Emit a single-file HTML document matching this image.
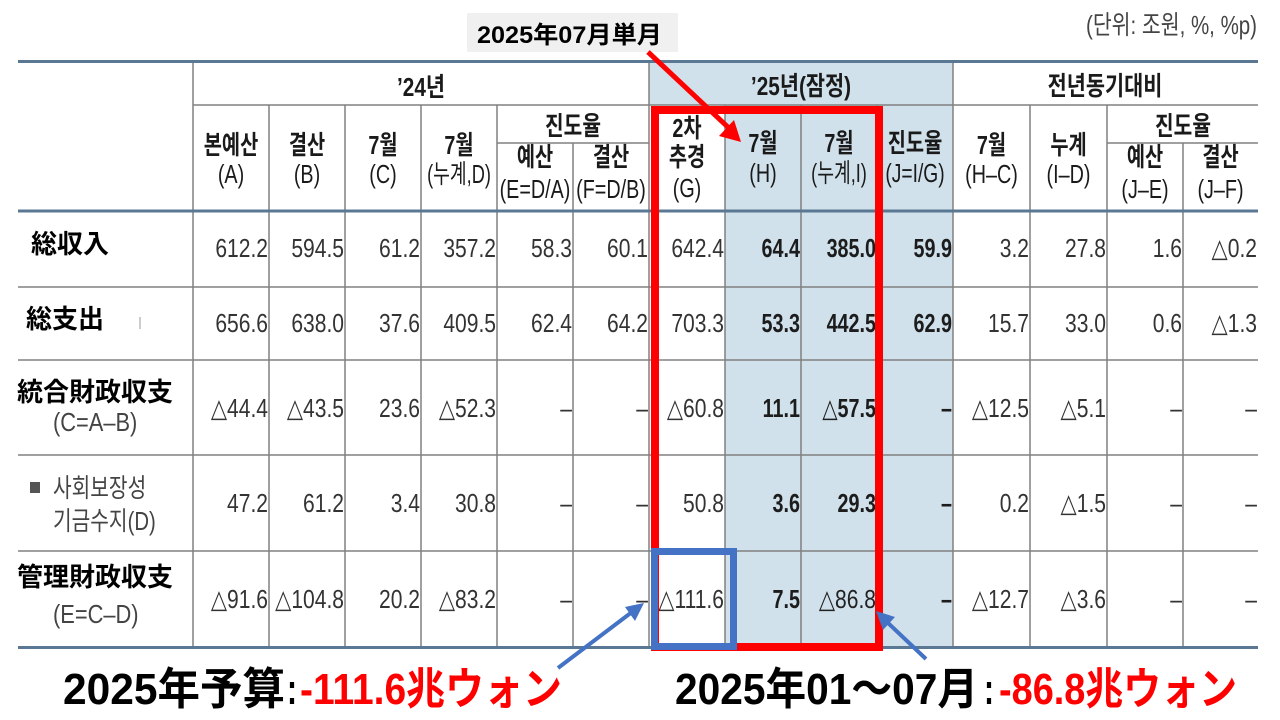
<!DOCTYPE html>
<html>
<head>
<meta charset="utf-8">
<style>
html,body{margin:0;padding:0;background:#fff;}
svg{display:block;}
.n{font-family:"Liberation Sans","DejaVu Sans",sans-serif;font-size:26px;fill:#333;}
.b{font-weight:bold;fill:#1c1c1c;}
.h{font-family:"Liberation Sans","Noto Sans CJK KR",sans-serif;font-size:26px;fill:#1a1a1a;font-weight:bold;}
.hl{font-family:"Liberation Sans","Noto Sans CJK KR",sans-serif;font-size:26px;fill:#1a1a1a;}
.lab{font-family:"Liberation Sans","Noto Sans CJK JP",sans-serif;font-size:26px;font-weight:bold;fill:#000;}
.sub{font-family:"Liberation Sans","Noto Sans CJK KR",sans-serif;font-size:26px;fill:#444;}
.ann{font-family:"Liberation Sans","Noto Sans CJK JP",sans-serif;font-size:44px;font-weight:bold;}
</style>
</head>
<body>
<svg width="1280" height="720" viewBox="0 0 1280 720" xmlns="http://www.w3.org/2000/svg">
<rect x="0" y="0" width="1280" height="720" fill="#fff"/>

<!-- shading -->
<rect x="649" y="62" width="304" height="43" fill="#d0e1eb"/>
<rect x="725" y="105" width="228" height="542" fill="#d0e1eb"/>

<!-- thin lines -->
<g stroke="#808080" stroke-width="1.5" fill="none">
  <line x1="193" y1="105" x2="1258" y2="105"/>
  <line x1="497" y1="143" x2="649" y2="143"/>
  <line x1="1107" y1="143" x2="1258" y2="143"/>
  <line x1="18" y1="287" x2="1258" y2="287"/>
  <line x1="18" y1="360" x2="1258" y2="360"/>
  <line x1="18" y1="455" x2="1258" y2="455"/>
  <line x1="18" y1="551" x2="1258" y2="551"/>
  <line x1="193" y1="62" x2="193" y2="647"/>
  <line x1="649" y1="62" x2="649" y2="647"/>
  <line x1="953" y1="62" x2="953" y2="647"/>
  <line x1="269" y1="105" x2="269" y2="647"/>
  <line x1="345" y1="105" x2="345" y2="647"/>
  <line x1="421" y1="105" x2="421" y2="647"/>
  <line x1="497" y1="105" x2="497" y2="647"/>
  <line x1="573" y1="143" x2="573" y2="647"/>
  <line x1="725" y1="105" x2="725" y2="647"/>
  <line x1="801" y1="105" x2="801" y2="647"/>
  <line x1="877" y1="105" x2="877" y2="647"/>
  <line x1="1030" y1="105" x2="1030" y2="647"/>
  <line x1="1107" y1="105" x2="1107" y2="647"/>
  <line x1="1183" y1="143" x2="1183" y2="647"/>
</g>
<!-- thick lines -->
<g stroke="#5a7893" stroke-width="3">
  <line x1="18" y1="61.5" x2="1258" y2="61.5"/>
  <line x1="18" y1="211" x2="1258" y2="211"/>
  <line x1="18" y1="647.5" x2="1258" y2="647.5"/>
</g>

<!-- unit text -->
<text x="1086" y="34" class="sub" font-size="24" textLength="171" lengthAdjust="spacingAndGlyphs">(단위: 조원, %, %p)</text>

<!-- header -->
<g class="h" text-anchor="middle">
  <text transform="translate(421,96) scale(0.8,1)">’24년</text>
  <text transform="translate(801,95) scale(0.8,1)">’25년(잠정)</text>
  <text transform="translate(1105,95) scale(0.8,1)">전년동기대비</text>

  <text transform="translate(231,154) scale(0.76,1)">본예산</text>
  <text transform="translate(307,154) scale(0.76,1)">결산</text>
  <text transform="translate(383,154) scale(0.76,1)">7월</text>
  <text transform="translate(459,154) scale(0.76,1)">7월</text>

  <text transform="translate(573,135) scale(0.78,1)">진도율</text>
  <text transform="translate(535,166) scale(0.76,1)">예산</text>
  <text transform="translate(611,166) scale(0.76,1)">결산</text>

  <text transform="translate(687,137) scale(0.76,1)">2차</text>
  <text transform="translate(687,166) scale(0.76,1)">추경</text>
  <text transform="translate(763,152) scale(0.76,1)">7월</text>
  <text transform="translate(839,152) scale(0.76,1)">7월</text>
  <text transform="translate(915,152) scale(0.76,1)">진도율</text>

  <text transform="translate(991.5,154) scale(0.76,1)">7월</text>
  <text transform="translate(1068.5,154) scale(0.76,1)">누계</text>
  <text transform="translate(1183,135) scale(0.78,1)">진도율</text>
  <text transform="translate(1145,166) scale(0.76,1)">예산</text>
  <text transform="translate(1220.5,166) scale(0.76,1)">결산</text>
</g>
<g class="hl" text-anchor="middle">
  <text transform="translate(231,183) scale(0.76,1)">(A)</text>
  <text transform="translate(307,183) scale(0.76,1)">(B)</text>
  <text transform="translate(383,183) scale(0.76,1)">(C)</text>
  <text transform="translate(459,183) scale(0.7,1)">(누계,D)</text>
  <text transform="translate(535,198) scale(0.76,1)">(E=D/A)</text>
  <text transform="translate(611,198) scale(0.76,1)">(F=D/B)</text>
  <text transform="translate(687,197) scale(0.76,1)">(G)</text>
  <text transform="translate(763,182) scale(0.76,1)">(H)</text>
  <text transform="translate(839,182) scale(0.7,1)">(누계,I)</text>
  <text transform="translate(915,182) scale(0.74,1)">(J=I/G)</text>
  <text transform="translate(991.5,183) scale(0.76,1)">(H–C)</text>
  <text transform="translate(1068.5,183) scale(0.76,1)">(I–D)</text>
  <text transform="translate(1145,198) scale(0.76,1)">(J–E)</text>
  <text transform="translate(1220.5,198) scale(0.76,1)">(J–F)</text>
</g>

<!-- row labels -->
<text x="31" y="253" class="lab">総収入</text>
<text x="26" y="328" class="lab">総支出</text>
<line x1="140" y1="317" x2="140" y2="329" stroke="#bbb" stroke-width="1.5"/>
<text x="17" y="401" class="lab">統合財政収支</text>
<text transform="translate(53,431) scale(0.84,1)" class="sub">(C=A–B)</text>
<rect x="30" y="482" width="10" height="11" fill="#555"/>
<text transform="translate(53,497) scale(0.78,1)" class="sub">사회보장성</text>
<text transform="translate(53,530) scale(0.78,1)" class="sub">기금수지(D)</text>
<text x="17" y="586" class="lab">管理財政収支</text>
<text transform="translate(53,623) scale(0.84,1)" class="sub">(E=C–D)</text>

<!-- numbers -->
<g class="n" text-anchor="end">
  <!-- row 1 -->
  <text transform="translate(268,257) scale(0.81,1)">612.2</text>
  <text transform="translate(344,257) scale(0.81,1)">594.5</text>
  <text transform="translate(420,257) scale(0.81,1)">61.2</text>
  <text transform="translate(496,257) scale(0.81,1)">357.2</text>
  <text transform="translate(572,257) scale(0.81,1)">58.3</text>
  <text transform="translate(648,257) scale(0.81,1)">60.1</text>
  <text transform="translate(724,257) scale(0.81,1)">642.4</text>
  <text class="b" transform="translate(800,257) scale(0.76,1)">64.4</text>
  <text class="b" transform="translate(876,257) scale(0.76,1)">385.0</text>
  <text class="b" transform="translate(952,257) scale(0.76,1)">59.9</text>
  <text transform="translate(1029,257) scale(0.81,1)">3.2</text>
  <text transform="translate(1106,257) scale(0.81,1)">27.8</text>
  <text transform="translate(1182,257) scale(0.81,1)">1.6</text>
  <text transform="translate(1257,257) scale(0.81,1)">△0.2</text>
  <!-- row 2 -->
  <text transform="translate(268,332) scale(0.81,1)">656.6</text>
  <text transform="translate(344,332) scale(0.81,1)">638.0</text>
  <text transform="translate(420,332) scale(0.81,1)">37.6</text>
  <text transform="translate(496,332) scale(0.81,1)">409.5</text>
  <text transform="translate(572,332) scale(0.81,1)">62.4</text>
  <text transform="translate(648,332) scale(0.81,1)">64.2</text>
  <text transform="translate(724,332) scale(0.81,1)">703.3</text>
  <text class="b" transform="translate(800,332) scale(0.76,1)">53.3</text>
  <text class="b" transform="translate(876,332) scale(0.76,1)">442.5</text>
  <text class="b" transform="translate(952,332) scale(0.76,1)">62.9</text>
  <text transform="translate(1029,332) scale(0.81,1)">15.7</text>
  <text transform="translate(1106,332) scale(0.81,1)">33.0</text>
  <text transform="translate(1182,332) scale(0.81,1)">0.6</text>
  <text transform="translate(1257,332) scale(0.81,1)">△1.3</text>
  <!-- row 3 -->
  <text transform="translate(268,417) scale(0.81,1)">△44.4</text>
  <text transform="translate(344,417) scale(0.81,1)">△43.5</text>
  <text transform="translate(420,417) scale(0.81,1)">23.6</text>
  <text transform="translate(496,417) scale(0.81,1)">△52.3</text>
  <text transform="translate(572,417) scale(0.81,1)">–</text>
  <text transform="translate(648,417) scale(0.81,1)">–</text>
  <text transform="translate(724,417) scale(0.81,1)">△60.8</text>
  <text class="b" transform="translate(800,417) scale(0.76,1)">11.1</text>
  <text class="b" transform="translate(876,417) scale(0.76,1)">△57.5</text>
  <text class="b" transform="translate(952,417) scale(0.76,1)">–</text>
  <text transform="translate(1029,417) scale(0.81,1)">△12.5</text>
  <text transform="translate(1106,417) scale(0.81,1)">△5.1</text>
  <text transform="translate(1182,417) scale(0.81,1)">–</text>
  <text transform="translate(1257,417) scale(0.81,1)">–</text>
  <!-- row 4 -->
  <text transform="translate(268,512) scale(0.81,1)">47.2</text>
  <text transform="translate(344,512) scale(0.81,1)">61.2</text>
  <text transform="translate(420,512) scale(0.81,1)">3.4</text>
  <text transform="translate(496,512) scale(0.81,1)">30.8</text>
  <text transform="translate(572,512) scale(0.81,1)">–</text>
  <text transform="translate(648,512) scale(0.81,1)">–</text>
  <text transform="translate(724,512) scale(0.81,1)">50.8</text>
  <text class="b" transform="translate(800,512) scale(0.76,1)">3.6</text>
  <text class="b" transform="translate(876,512) scale(0.76,1)">29.3</text>
  <text class="b" transform="translate(952,512) scale(0.76,1)">–</text>
  <text transform="translate(1029,512) scale(0.81,1)">0.2</text>
  <text transform="translate(1106,512) scale(0.81,1)">△1.5</text>
  <text transform="translate(1182,512) scale(0.81,1)">–</text>
  <text transform="translate(1257,512) scale(0.81,1)">–</text>
  <!-- row 5 -->
  <text transform="translate(268,608) scale(0.81,1)">△91.6</text>
  <text transform="translate(344,608) scale(0.81,1)">△104.8</text>
  <text transform="translate(420,608) scale(0.81,1)">20.2</text>
  <text transform="translate(496,608) scale(0.81,1)">△83.2</text>
  <text transform="translate(572,608) scale(0.81,1)">–</text>
  <text transform="translate(648,608) scale(0.81,1)">–</text>
  <text transform="translate(724,608) scale(0.81,1)">△111.6</text>
  <text class="b" transform="translate(800,608) scale(0.76,1)">7.5</text>
  <text transform="translate(876,608) scale(0.81,1)" fill="#222">△86.8</text>
  <text class="b" transform="translate(952,608) scale(0.76,1)">–</text>
  <text transform="translate(1029,608) scale(0.81,1)">△12.7</text>
  <text transform="translate(1106,608) scale(0.81,1)">△3.6</text>
  <text transform="translate(1182,608) scale(0.81,1)">–</text>
  <text transform="translate(1257,608) scale(0.81,1)">–</text>
</g>

<!-- red highlight rect -->
<rect x="655" y="110" width="224" height="537" fill="none" stroke="#ff0000" stroke-width="8"/>
<!-- blue highlight rect -->
<rect x="654.5" y="551.5" width="79" height="95" fill="none" stroke="#4472c4" stroke-width="7"/>

<!-- label box -->
<rect x="467" y="13" width="211" height="39" fill="#f0f0f0"/>
<text x="477" y="43" font-family="Liberation Sans, Noto Sans CJK JP, sans-serif" font-size="24" font-weight="bold" fill="#000" textLength="185" lengthAdjust="spacingAndGlyphs">2025年07月単月</text>

<!-- red arrow -->
<line x1="648" y1="52" x2="731" y2="130" stroke="#ff0000" stroke-width="5"/>
<polygon points="741,142 719,136 734,120" fill="#ff0000"/>

<!-- blue arrows -->
<line x1="558" y1="668" x2="632" y2="612" stroke="#4472c4" stroke-width="4"/>
<polygon points="644,603 635,621 625,607" fill="#4472c4"/>
<line x1="926" y1="659" x2="887" y2="622" stroke="#4472c4" stroke-width="4"/>
<polygon points="876,611 895,617 883,630" fill="#4472c4"/>

<!-- annotations -->
<text x="63" y="704" class="ann" fill="#000" textLength="222" lengthAdjust="spacingAndGlyphs">2025年予算</text>
<text x="287" y="704" class="ann" fill="#000" textLength="10" lengthAdjust="spacingAndGlyphs">:</text>
<text x="300" y="704" class="ann" fill="#ff0000" textLength="262" lengthAdjust="spacingAndGlyphs">-111.6兆ウォン</text>

<text x="675" y="704" class="ann" fill="#000" textLength="303" lengthAdjust="spacingAndGlyphs">2025年01～07月</text>
<text x="984" y="704" class="ann" fill="#000" textLength="10" lengthAdjust="spacingAndGlyphs">:</text>
<text x="999" y="704" class="ann" fill="#ff0000" textLength="238" lengthAdjust="spacingAndGlyphs">-86.8兆ウォン</text>
</svg>
</body>
</html>
